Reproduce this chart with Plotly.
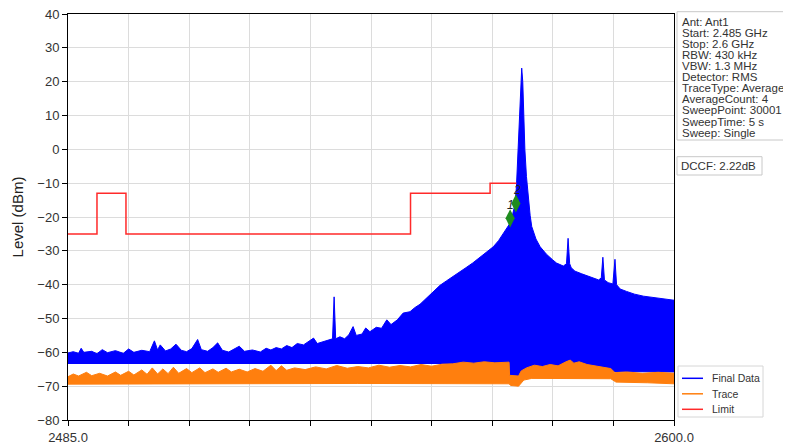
import plotly.graph_objects as go

final_hi_f = [2485.0, 2486.0, 2487.0, 2487.5, 2488.0, 2489.5, 2490.5, 2491.5, 2492.5, 2494.0,
              2495.5, 2496.5, 2497.5, 2499.0, 2500.5, 2501.4, 2502.0, 2502.5, 2503.5, 2504.5,
              2505.5, 2506.5, 2507.5, 2508.5, 2509.6, 2510.3, 2511.5, 2512.5, 2513.4, 2514.3,
              2515.5, 2516.5, 2517.5, 2518.5, 2520.0, 2521.5, 2522.6, 2523.5, 2524.5, 2525.5,
              2526.5, 2527.5, 2528.5, 2529.7, 2530.5, 2531.6, 2532.3, 2533.4, 2534.5, 2535.2,
              2535.5, 2535.8, 2536.6, 2537.5, 2538.3, 2539.1, 2539.7, 2540.8, 2541.5, 2542.3,
              2543.5, 2544.5, 2545.5, 2546.3, 2547.5, 2548.6, 2549.9, 2550.8, 2551.8, 2552.8,
              2553.7, 2554.6, 2555.6, 2556.8, 2558.1, 2559.4, 2560.5, 2561.8, 2563.2, 2564.5,
              2565.7, 2566.7, 2567.6, 2568.3, 2568.9, 2569.4, 2569.8, 2570.1, 2570.3, 2570.6,
              2570.9, 2571.1, 2571.3, 2571.5, 2571.7, 2572.0, 2572.4, 2572.7, 2573.0, 2573.8,
              2574.6, 2575.8, 2577.0, 2577.7, 2579.0, 2579.6, 2579.9, 2580.2, 2580.5, 2581.2,
              2582.5, 2583.6, 2584.7, 2585.7, 2586.2, 2586.5, 2586.8, 2587.5, 2588.4, 2588.8,
              2589.1, 2589.8, 2591.0, 2592.5, 2594.2, 2596.0, 2598.0, 2600.0]
final_hi_db = [-60.2, -59.8, -60.3, -58.8, -60.0, -59.7, -60.4, -59.2, -60.1, -59.5,
               -60.3, -59.0, -60.0, -59.4, -59.8, -56.6, -59.3, -57.8, -59.6, -59.0,
               -57.6, -59.4, -59.8, -58.9, -56.2, -59.2, -59.7, -58.6, -57.2, -59.4,
               -59.9, -59.1, -58.2, -59.7, -59.3, -59.9, -58.8, -59.3, -58.6, -59.0,
               -58.0, -58.6, -57.4, -57.8, -57.0, -55.8, -57.4, -56.8, -56.4, -56.0,
               -43.6, -56.0, -55.4, -56.0, -54.8, -52.4, -55.0, -54.6, -52.8, -53.9,
               -52.6, -52.9, -50.4, -51.8, -50.4, -48.4, -48.0, -46.8, -45.8, -44.4,
               -43.0, -41.6, -40.2, -38.9, -37.6, -36.2, -35.0, -33.6, -31.8, -30.2,
               -28.8, -27.0, -25.0, -23.3, -21.8, -19.0, -16.5, -11.0, -3.0, 8.0,
               20.0, 24.0, 20.0, 9.0, 0.0, -8.0, -15.0, -19.5, -22.8, -26.5,
               -28.8, -31.0, -32.7, -33.6, -34.5, -33.8, -26.3, -33.8, -35.0, -36.0,
               -36.8, -37.4, -38.0, -38.6, -38.0, -31.9, -38.6, -39.4, -39.8, -32.5,
               -40.0, -41.3, -42.0, -42.8, -43.4, -43.8, -44.2, -44.6]
final_lo_f = [2485.0, 2568.7, 2568.8, 2571.0, 2571.5, 2600.0]
final_lo_db = [-63.3, -63.3, -67.0, -67.8, -65.5, -65.8]

# --- Trace (orange) envelope ---
trace_hi_f = [2485.0, 2486.0, 2487.0, 2488.5, 2489.5, 2491.0, 2492.5, 2494.0, 2495.0, 2496.5,
              2497.5, 2499.0, 2500.0, 2501.0, 2502.0, 2503.0, 2504.0, 2505.0, 2506.0, 2507.5,
              2508.5, 2510.0, 2511.0, 2512.5, 2513.5, 2515.0, 2516.0, 2517.5, 2519.0, 2520.5,
              2522.0, 2523.5, 2524.5, 2525.5, 2526.5, 2528.0, 2530.0, 2532.0, 2534.0, 2536.0,
              2538.0, 2540.0, 2542.0, 2544.0, 2546.0, 2548.0, 2550.0, 2552.0, 2554.0, 2556.0,
              2558.0, 2560.0, 2562.0, 2564.0, 2566.0, 2568.7, 2568.8, 2570.5, 2571.0, 2572.0,
              2573.5, 2575.0, 2576.5, 2578.0, 2579.5, 2580.3, 2581.0, 2582.0, 2583.5, 2585.0,
              2586.5, 2588.0, 2588.8, 2591.0, 2594.0, 2597.0, 2600.0]
trace_hi_db = [-67.2, -66.4, -67.0, -65.9, -66.9, -66.2, -67.0, -65.8, -66.8, -65.6,
               -66.7, -65.2, -66.5, -64.6, -66.4, -64.9, -66.3, -64.4, -66.2, -64.8,
               -66.0, -64.6, -66.0, -64.9, -65.9, -64.7, -65.8, -65.0, -65.8, -64.8,
               -65.6, -63.8, -65.4, -64.0, -65.3, -64.6, -65.1, -64.3, -64.9, -63.9,
               -64.7, -64.2, -64.6, -63.8, -64.4, -63.9, -64.3, -63.6, -64.1, -63.5,
               -63.4, -62.9, -63.2, -62.8, -63.1, -62.9, -66.8, -67.0, -65.5, -64.6,
               -63.8, -64.2, -63.6, -64.0, -62.8, -62.3, -63.2, -62.8, -63.6, -64.0,
               -64.4, -64.8, -66.0, -65.8, -66.2, -65.9, -66.2]
trace_lo_f = [2485.0, 2520.0, 2540.0, 2568.7, 2569.0, 2570.5, 2571.5, 2573.0, 2588.0, 2589.0,
              2595.0, 2600.0]
trace_lo_db = [-69.4, -69.3, -69.2, -69.3, -69.8, -70.0, -68.2, -67.7, -67.8, -68.8,
               -69.0, -69.3]

# --- Limit line (step) ---
limit_f = [2485.0, 2490.5, 2490.5, 2496.0, 2496.0, 2550.0, 2550.0, 2565.1, 2565.1, 2570.1]
limit_db = [-25, -25, -13, -13, -25, -25, -13, -13, -10, -10]

# --- markers ---
marker_f = [2568.9, 2570.0]
marker_db = [-20.4, -16.0]
marker_labels = ["1", "2"]

info_lines = ["Ant: Ant1", "Start: 2.485 GHz", "Stop: 2.6 GHz", "RBW: 430 kHz", "VBW: 1.3 MHz",
              "Detector: RMS", "TraceType: Average", "AverageCount: 4", "SweepPoint: 30001",
              "SweepTime: 5 s", "Sweep: Single"]
dccf_text = "DCCF: 2.22dB"
legend_names = ["Final Data", "Trace", "Limit"]

x_tick_vals = [2485.0, 2496.5, 2508.0, 2519.5, 2531.0, 2542.5, 2554.0, 2565.5, 2577.0, 2588.5, 2600.0]
x_tick_text = ["2485.0", "", "", "", "", "", "", "", "", "", "2600.0"]
y_tick_vals = [-80, -70, -60, -50, -40, -30, -20, -10, 0, 10, 20, 30, 40]

BLUE = "#0000ff"
ORANGE = "#ff7f0e"
RED = "#ff2a2a"
FONT = "Liberation Sans, Arial, sans-serif"

# plot area in page pixels: x 68..674, y 14..420 (page body adds an 8px offset)
PX0, PX1, PY0, PY1 = 68, 674, 14, 420


def px(x):
    return (x - PX0) / (PX1 - PX0)


def py(y):
    return (PY1 - y) / (PY1 - PY0)


fig = go.Figure()

# filled envelopes (the sweeps are so dense they read as solid bands)
fig.add_trace(go.Scatter(
    x=final_hi_f + final_lo_f[::-1], y=final_hi_db + final_lo_db[::-1], name="Final Data",
    fill="toself", fillcolor=BLUE, mode="lines", line=dict(color=BLUE, width=1),
    showlegend=False, hoverinfo="skip"))
fig.add_trace(go.Scatter(
    x=trace_hi_f + trace_lo_f[::-1], y=trace_hi_db + trace_lo_db[::-1], name="Trace",
    fill="toself", fillcolor=ORANGE, mode="lines", line=dict(color=ORANGE, width=1),
    showlegend=False, hoverinfo="skip"))
fig.add_trace(go.Scatter(x=limit_f, y=limit_db, mode="lines", name="Limit",
                         line=dict(color=RED, width=1.5), showlegend=False))
fig.add_trace(go.Scatter(x=marker_f, y=marker_db, mode="markers",
                         marker=dict(symbol="diamond-tall", size=13, color="#1e8c1e",
                                     line=dict(width=0)),
                         showlegend=False))

annotations = []
for f, db, lab in zip(marker_f, marker_db, marker_labels):
    annotations.append(dict(x=f + 0.15, y=db + 3.9, xref="x", yref="y", text=lab,
                            showarrow=False, font=dict(size=12, color="#222", style="italic")))

# info box, one annotation per line for tight spacing
for i, line in enumerate(info_lines):
    annotations.append(dict(x=px(679.5), y=py(21.7 + 11.1 * i), xref="paper", yref="paper",
                            text=line, showarrow=False, xanchor="left", yanchor="middle",
                            font=dict(size=11.5, color="#333", family=FONT)))
annotations.append(dict(x=px(679), y=py(166), xref="paper", yref="paper",
                        text=dccf_text, showarrow=False, xanchor="left", yanchor="middle",
                        font=dict(size=11.5, color="#333", family=FONT)))

shapes = [
    dict(type="rect", xref="paper", yref="paper",
         x0=px(677), x1=px(792), y0=py(140), y1=py(11.7),
         line=dict(color="#c8c8c8", width=1)),
    dict(type="rect", xref="paper", yref="paper",
         x0=px(677), x1=px(762), y0=py(175), y1=py(156.7),
         line=dict(color="#c8c8c8", width=1)),
    # legend frame
    dict(type="rect", xref="paper", yref="paper",
         x0=px(678), x1=px(763), y0=py(417), y1=py(366),
         line=dict(color="#d6d6d6", width=1), fillcolor="white", layer="above"),
]

# legend drawn by hand to match the compact row spacing
for i, (name, col) in enumerate(zip(legend_names, [BLUE, ORANGE, RED])):
    row = 378.3 + 15.5 * i
    shapes.append(dict(type="line", xref="paper", yref="paper",
                       x0=px(682), x1=px(703), y0=py(row), y1=py(row),
                       line=dict(color=col, width=1.5), layer="above"))
    annotations.append(dict(x=px(710), y=py(row), xref="paper", yref="paper", text=name,
                            showarrow=False, xanchor="left", yanchor="middle",
                            font=dict(size=10.5, color="#333", family=FONT)))

fig.update_layout(
    width=791, height=445,
    margin=dict(l=PX0 - 8, r=791 - (PX1 - 8), t=PY0 - 8, b=445 - (PY1 - 8), autoexpand=False),
    paper_bgcolor="white", plot_bgcolor="white",
    font=dict(family=FONT, color="#333"),
    annotations=annotations, shapes=shapes, showlegend=False,
    xaxis=dict(range=[2485, 2600], tickvals=x_tick_vals, ticktext=x_tick_text,
               showgrid=True, gridcolor="#dcdcdc", gridwidth=1, automargin=False,
               showline=True, linecolor="black", linewidth=1, mirror=True,
               ticks="outside", ticklen=5, tickcolor="black", ticklabeloverflow="allow",
               tickfont=dict(size=13, color="#333"), zeroline=False),
    yaxis=dict(range=[-80, 40], tickvals=y_tick_vals,
               showgrid=True, gridcolor="#dcdcdc", gridwidth=1, automargin=False,
               showline=True, linecolor="black", linewidth=1, mirror=True,
               ticks="outside", ticklen=5, tickcolor="black", ticklabeloverflow="allow",
               tickfont=dict(size=13, color="#333"), zeroline=False,
               title=dict(text="Level (dBm)", font=dict(size=15, color="#222"), standoff=10)),
)

fig.write_html("out.html")
